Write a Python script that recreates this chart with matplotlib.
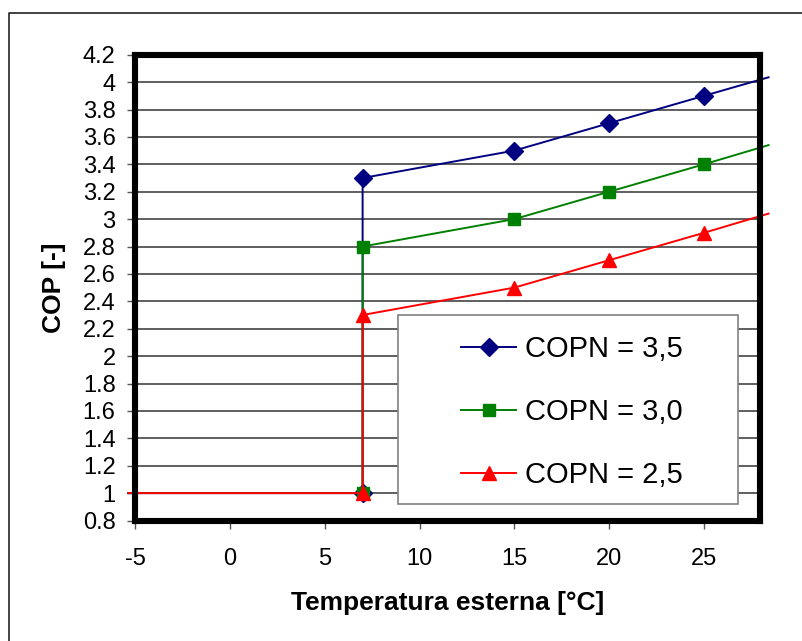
import matplotlib
matplotlib.use("Agg")
import matplotlib.pyplot as plt
from matplotlib.patches import Rectangle
from matplotlib.lines import Line2D

plt.rcParams['font.family'] = ['Liberation Sans', 'DejaVu Sans']
plt.rcParams['axes.unicode_minus'] = False

# temperature points (first/last lie just outside the plot, as in Excel)
temp = [-5.35, 7, 7, 15, 20, 25, 28.4]
cop_35 = [1.0, 1.0, 3.3, 3.5, 3.7, 3.9, 4.035]
cop_30 = [1.0, 1.0, 2.8, 3.0, 3.2, 3.4, 3.54]
cop_25 = [1.0, 1.0, 2.3, 2.5, 2.7, 2.9, 3.04]
labels = ['COPN = 3,5', 'COPN = 3,0', 'COPN = 2,5']

x_ticks = [-5, 0, 5, 10, 15, 20, 25]
y_ticks = [0.8, 1.0, 1.2, 1.4, 1.6, 1.8, 2.0, 2.2, 2.4, 2.6, 2.8, 3.0, 3.2,
           3.4, 3.6, 3.8, 4.0, 4.2]

W, H = 802, 641
fig = plt.figure(figsize=(W / 100, H / 100), dpi=100)
ax = fig.add_axes([135 / W, 1 - 520.5 / H, (760 - 135) / W, (520.5 - 54.7) / H])

ax.set_xlim(-5, 27.95)
ax.set_ylim(0.8, 4.2)
ax.set_xticks(x_ticks)
ax.set_yticks(y_ticks)
ax.set_yticklabels(['%g' % v for v in y_ticks])

for v in y_ticks[1:-1]:
    ax.axhline(v, color='#333333', lw=1.1, zorder=1)

for s in ax.spines.values():
    s.set_linewidth(4.4)
    s.set_color('black')
    s.set_zorder(5)

ax.tick_params(axis='both', direction='out', length=6, width=1, color='#555555',
               labelsize=17)
ax.tick_params(axis='y', pad=8)
ax.tick_params(axis='x', pad=14)

# legend box
ax.add_patch(Rectangle((0.4208, 0.0354), 0.544, 0.4058, transform=ax.transAxes,
                       facecolor='white', edgecolor='#808080', lw=1.2, zorder=2.5))

styles = [('#000080', 'D', 9), ('#008000', 's', 8), ('#FF0000', '^', 10)]
handles = []
for ys, (c, m, ms), lab in zip([cop_35, cop_30, cop_25], styles, labels):
    h, = ax.plot(temp, ys, color=c, lw=1.4, marker=m, markersize=ms,
                 markevery=[1, 2, 3, 4, 5], clip_on=False, zorder=3, label=lab)
    handles.append(h)

leg = ax.legend(handles=handles, loc='upper left', frameon=False,
                bbox_to_anchor=(461 / W, 1 - 335 / H), bbox_transform=fig.transFigure,
                borderpad=0, borderaxespad=0, fontsize=21, handlelength=1.9,
                handletextpad=0.3, labelspacing=1.2)
leg.set_zorder(6)

ax.set_xlabel('Temperatura esterna [°C]', fontsize=19, fontweight='bold', labelpad=15)
ax.set_ylabel('COP [-]', fontsize=19, fontweight='bold', labelpad=12)

# outer chart border (left and top edges visible)
fig.add_artist(Line2D([9 / W, 9 / W, 1.0], [0.0, 1 - 13 / H, 1 - 13 / H],
                      color='#222222', lw=1.2))

fig.savefig('out.png', dpi=100)
